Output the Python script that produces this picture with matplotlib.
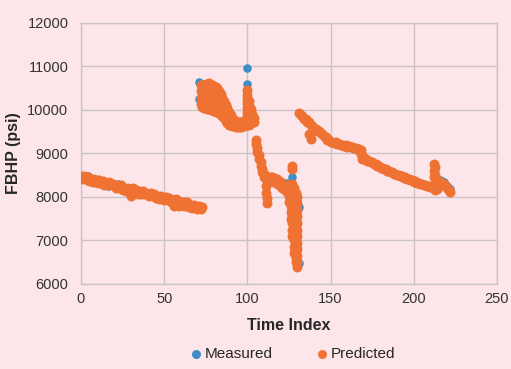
import matplotlib.pyplot as plt
import numpy as np

plt.rcParams['font.family'] = ['Liberation Sans', 'DejaVu Sans']

BG = '#fce6ea'
GRID = '#cdc3c6'
BLUE = '#3d8fc6'
ORANGE = '#f07232'

# segment A: slow decline, one reading per time index
seg_a_t = list(range(0, 74))
seg_a_measured = [8470, 8410, 8485, 8410, 8470, 8365, 8415, 8340, 8415, 8370,
                  8325, 8395, 8325, 8360, 8270, 8330, 8260, 8340, 8270, 8295,
                  8270, 8210, 8285, 8210, 8270, 8165, 8215, 8140, 8215, 8170,
                  8125, 8195, 8125, 8160, 8075, 8135, 8065, 8145, 8075, 8100,
                  8075, 8015, 8090, 8015, 8075, 7970, 8020, 7945, 8020, 7975,
                  7930, 8000, 7930, 7965, 7875, 7935, 7865, 7945, 7875, 7900,
                  7875, 7815, 7890, 7815, 7875, 7770, 7820, 7745, 7820, 7775,
                  7730, 7800, 7730, 7765]
seg_a_predicted = [8470, 8412, 8483, 8408, 8468, 8368, 8413, 8342, 8413, 8368,
                   8327, 8393, 8327, 8358, 8272, 8328, 8262, 8338, 8272, 8293,
                   8268, 8212, 8283, 8212, 8268, 8167, 8213, 8142, 8213, 8168,
                   8127, 8193, 8127, 8158, 8077, 8133, 8067, 8143, 8077, 8098,
                   8073, 8017, 8088, 8017, 8073, 7972, 8018, 7947, 8018, 7973,
                   7932, 7998, 7932, 7963, 7877, 7933, 7867, 7943, 7877, 7898,
                   7873, 7817, 7888, 7817, 7873, 7772, 7818, 7747, 7818, 7773,
                   7732, 7798, 7732, 7763]
seg_a_extra = {30: [8010], 56: [7800], 59: [7795], 62: [7800]}

# segment B: high cluster after the first jump (several readings per index)
seg_b_predicted = {
    72: [10560, 10420, 10280, 10140],
    73: [10580, 10440, 10300, 10160, 10060],
    74: [10560, 10420, 10280, 10140, 10030],
    75: [10590, 10450, 10310, 10170, 10040],
    76: [10600, 10460, 10320, 10180, 10020],
    77: [10610, 10470, 10330, 10190, 10010],
    78: [10580, 10440, 10300, 10160, 10000],
    79: [10560, 10420, 10280, 10140, 9990],
    80: [10540, 10400, 10260, 10120, 9970],
    81: [10530, 10390, 10250, 10110, 9960],
    82: [10510, 10370, 10230, 10090, 9940],
    83: [10440, 10310, 10180, 10050, 9920],
    84: [10360, 10240, 10120, 10000, 9890],
    85: [10280, 10170, 10060, 9950, 9850],
    86: [10200, 10100, 10000, 9900, 9800],
    87: [10120, 10020, 9920, 9820, 9740],
    88: [10040, 9940, 9850, 9760, 9690],
    89: [9960, 9870, 9780, 9700, 9650],
    90: [9880, 9800, 9720, 9650],
    91: [9810, 9740, 9670, 9620],
    92: [9760, 9690, 9630],
    93: [9740, 9670, 9610],
    94: [9720, 9650, 9600],
    95: [9710, 9640, 9600],
    96: [9710, 9650, 9610],
    97: [9720, 9660, 9620],
    98: [9740, 9680, 9630],
    99: [9760, 9700, 9650],
    100: [10450, 10350, 10250, 10150, 10050, 9950, 9850, 9750, 9660],
    101: [10200, 10080, 9960, 9850, 9740, 9650],
    102: [10020, 9910, 9800, 9700],
    103: [9900, 9800, 9710],
    104: [9820, 9730],
}
seg_b_measured = dict(seg_b_predicted)
seg_b_measured.update({
    71: [10640, 10250],
    100: [10950, 10600, 10450, 10350, 10250, 10150, 10050, 9950, 9850, 9750, 9660],
})

# segment C: steep fall, then a small hump
seg_c = {
    105: [9300, 9220],
    106: [9130, 9040],
    107: [8960, 8880],
    108: [8800, 8720],
    109: [8650, 8580],
    110: [8520, 8460],
    111: [8420, 8260, 8100],
    112: [8430, 7980, 7860],
    113: [8450, 8360],
    114: [8460, 8370],
    115: [8460, 8370],
    116: [8440, 8350],
    117: [8420, 8330],
    118: [8400, 8310],
    119: [8370, 8280],
    120: [8340, 8250],
    121: [8300, 8210],
    122: [8270, 8170],
    123: [8250, 8140],
    124: [8260, 8130],
    125: [8280, 8150, 8020, 7880],
}

# segment D: the deep drop around index 126-131
seg_d_predicted = {
    126: [8250, 8100, 7950, 7800, 7650, 7500],
    127: [8720, 8640, 8300, 8150, 8000, 7850, 7700, 7550, 7400, 7250, 7100],
    128: [8200, 8050, 7900, 7750, 7600, 7450, 7300, 7150, 7000, 6850, 6700],
    129: [8100, 7950, 7800, 7650, 7500, 7350, 7200, 7050, 6900, 6750, 6600, 6500],
    130: [8000, 7850, 7700, 7550, 7400, 7250, 7100, 6950, 6800, 6650, 6500, 6400],
}
seg_d_measured = {
    124: [8330],
    126: [8250, 8100, 7950, 7800, 7650, 7500],
    127: [8460, 8300, 8150, 8000, 7850, 7700, 7550, 7400, 7250, 7100],
    128: [8200, 8050, 7900, 7750, 7600, 7450, 7300, 7150, 7000, 6850, 6700],
    129: [8100, 7950, 7800, 7650, 7500, 7350, 7200, 7050, 6900, 6750, 6600, 6500],
    130: [8000, 7850, 7700, 7550, 7400, 7250, 7100, 6950, 6800, 6650, 6500, 6420],
    131: [7770, 6480],
}

# segment E: recovery to ~9900 then slow decline to the end
seg_e_t = list(range(131, 223))
seg_e_measured = [9920, 9880, 9860, 9790, 9780, 9720, 9710, 9640, 9620, 9580,
                  9570, 9520, 9520, 9470, 9450, 9390, 9380, 9310, 9300, 9260,
                  9260, 9230, 9250, 9210, 9220, 9190, 9190, 9170, 9180, 9150,
                  9160, 9140, 9140, 9110, 9120, 9080, 9090, 9060, 8950, 8900,
                  8880, 8830, 8830, 8790, 8800, 8760, 8750, 8710, 8710, 8670,
                  8670, 8630, 8630, 8590, 8600, 8560, 8560, 8520, 8530, 8500,
                  8510, 8470, 8480, 8440, 8450, 8410, 8410, 8380, 8390, 8350,
                  8360, 8320, 8320, 8290, 8300, 8270, 8280, 8250, 8260, 8230,
                  8240, 8220, 8240, 8340, 8390, 8380, 8370, 8340, 8300, 8260,
                  8210, 8170]
seg_e_predicted = [9920, 9880, 9860, 9790, 9780, 9720, 9710, 9640, 9620, 9580,
                   9570, 9520, 9520, 9470, 9450, 9390, 9380, 9310, 9300, 9260,
                   9260, 9230, 9250, 9210, 9220, 9190, 9190, 9170, 9180, 9150,
                   9160, 9140, 9150, 9120, 9130, 9090, 9100, 9070, 8960, 8900,
                   8880, 8830, 8830, 8790, 8800, 8760, 8750, 8710, 8710, 8670,
                   8670, 8630, 8630, 8590, 8600, 8560, 8560, 8520, 8530, 8500,
                   8510, 8470, 8480, 8440, 8450, 8410, 8410, 8380, 8390, 8350,
                   8360, 8320, 8320, 8290, 8300, 8270, 8280, 8250, 8260, 8230,
                   8240, 8220, 8240, 8320, 8370, 8350, 8330, 8300, 8250, 8200,
                   8150, 8120]
seg_e_extra = {137: [9450], 138: [9330], 168: [8990], 169: [8880],
               212: [8450, 8600, 8750], 213: [8680, 8500, 8300, 8150], 214: [8170]}

x_ticks = [0, 50, 100, 150, 200, 250]
y_ticks = [6000, 7000, 8000, 9000, 10000, 11000, 12000]


def flatten(d):
    t = [k for k, v in d.items() for _ in v]
    y = [val for v in d.values() for val in v]
    return t, y


def collect(parts):
    t, y = [], []
    for pt, py in parts:
        t += list(pt)
        y += list(py)
    return t, y


meas_t, meas_y = collect([(seg_a_t, seg_a_measured), flatten(seg_a_extra),
                          flatten(seg_b_measured), flatten(seg_c),
                          flatten(seg_d_measured), (seg_e_t, seg_e_measured),
                          flatten(seg_e_extra)])
pred_t, pred_y = collect([(seg_a_t, seg_a_predicted), flatten(seg_a_extra),
                          flatten(seg_b_predicted), flatten(seg_c),
                          flatten(seg_d_predicted), (seg_e_t, seg_e_predicted),
                          flatten(seg_e_extra)])

fig = plt.figure(figsize=(5.11, 3.69), dpi=100, facecolor=BG)
ax = fig.add_axes([0.1585, 0.2304, 0.8141, 0.7081], facecolor=BG)

ax.scatter(meas_t, meas_y, s=38, color=BLUE, linewidths=0, label='Measured', zorder=3)
# same-colour edge hides the blue anti-alias fringe underneath
ax.scatter(pred_t, pred_y, s=38, color=ORANGE, edgecolors=ORANGE, linewidths=1.0,
           label='Predicted', zorder=4)

ax.set_xlim(0, 250)
ax.set_ylim(6000, 12000)
ax.set_xticks(x_ticks)
ax.set_yticks(y_ticks)
ax.grid(True, color=GRID, lw=1)
ax.set_axisbelow(True)
for sp in ax.spines.values():
    sp.set_color(GRID)
    sp.set_linewidth(1)
ax.tick_params(length=0, labelsize=10.5, labelcolor='#333333')
ax.tick_params(axis='x', pad=6)
ax.tick_params(axis='y', pad=9)

ax.set_xlabel('Time Index', fontsize=11.5, fontweight='bold', color='#262626')
ax.set_ylabel('FBHP (psi)', fontsize=11.5, fontweight='bold', color='#262626')
ax.xaxis.set_label_coords(0.5, -0.13)
ax.yaxis.set_label_coords(-0.145, 0.5)

leg = fig.legend(loc='center', bbox_to_anchor=(294 / 511, 1 - 354 / 369), ncol=2,
                 frameon=False, fontsize=11, handlelength=0.5, handletextpad=0.3,
                 columnspacing=3.0, labelcolor='#262626')
for h in leg.legend_handles:
    h.set_sizes([42])
    h.set_linewidth(0)

fig.savefig('out.png', dpi=100, facecolor=BG)
